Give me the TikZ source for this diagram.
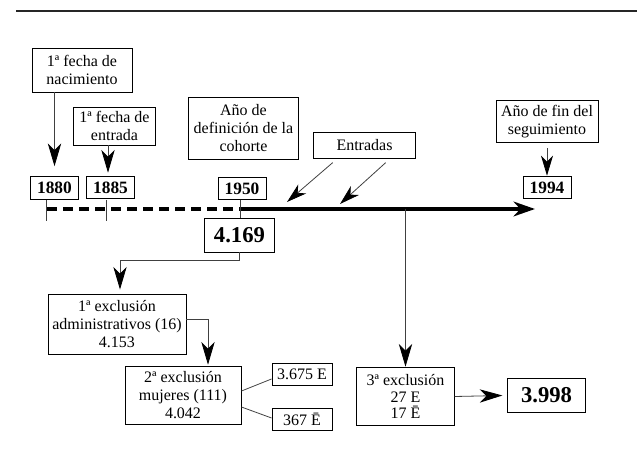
\documentclass[tikz,border=0pt]{standalone}
\usepackage{fontspec}
\setmainfont{Liberation Serif}
\usepackage{tikz}
\usetikzlibrary{arrows.meta,calc}

\tikzset{
  caja/.style={draw, line width=0.7pt, align=center, inner sep=1pt,
    font=\fontsize{12}{13.5}\selectfont},
  anio/.style={caja, font=\bfseries\fontsize{13}{14}\selectfont,
    minimum width=36pt, minimum height=17pt},
  cifra/.style={caja, font=\bfseries\fontsize{17}{18}\selectfont},
  fina/.style={line width=0.6pt, draw=black!75},
  flecha/.style={fina, -{Stealth[length=17pt,width=10pt,inset=5pt,color=black]}},
  flechita/.style={fina, -{Stealth[length=15pt,width=9pt,inset=4.5pt,color=black]}},
  linea/.style={line width=3pt}
}

\begin{document}
\begin{tikzpicture}[x=0.75pt, y=-0.75pt]
\useasboundingbox (0,0) rectangle (637,453);
% filete de arriba
\draw[line width=1.6pt, draw=black!85] (16,11) -- (637,11);

% cajas de fechas
\node[caja, minimum width=75pt, minimum height=33pt] (nac) at (82,70) {1ª fecha de\\nacimiento};
\node[caja, minimum width=62pt, minimum height=28.5pt] (ent) at (114.5,126) {1ª fecha de\\entrada};
\node[caja, minimum width=83pt, minimum height=46pt] (def) at (243.5,128.5) {Año de\\definición de la\\cohorte};
\node[caja, minimum width=77pt, minimum height=19pt] (entr) at (364.5,145.5) {Entradas};
\node[caja, minimum width=76.5pt, minimum height=32pt] (fin) at (547,121.5) {Año de fin del\\seguimiento};

\node[anio] (a1880) at (54.5,188) {1880};
\node[anio] (a1885) at (110.5,187.5) {1885};
\node[anio] (a1950) at (242,188.5) {1950};
\node[anio] (a1994) at (547,187.5) {1994};

% linea de tiempo
\coordinate (t0) at (47,209);
\coordinate (t1) at (240,209);
\coordinate (t2) at (535,209);
\draw[linea, dash pattern=on 7.5pt off 4.5pt] (t0) -- (t1);
\draw[linea, -{Stealth[length=16pt,width=11pt,inset=5pt]}] (t1) -- (t2);
\draw[fina] (46,200) -- (46,221);
\draw[fina] (106,200) -- (106,221);

\draw[flecha] (nac.south -| a1880) -- ($(a1880.north)+(0,-10)$);
\draw[flecha] ($(ent.south)+(-6.5,0)$) -- ($(a1885.north)+(-2.5,-3)$);
\draw[flechita] ($(fin.south)+(0,5)$) -- (a1994.north);
\coordinate (e1) at (287,202);
\coordinate (e2) at (340,204);
\draw[flechita] ($(entr.south west)+(20,4)$) -- (e1);
\draw[flechita] ($(entr.south west)+(73,4)$) -- (e2);

% cohorte y exclusiones
\node[cifra, minimum width=53pt, minimum height=25.5pt] (total) at (239.5,235) {4.169};
\draw[fina] (a1950.south -| t1) -- (total.north -| t1);

\node[caja, minimum width=103.5pt, minimum height=45pt] (exc1) at (117,324) {1ª exclusión\\administrativos (16)\\4.153};
\node[caja, minimum width=87pt, minimum height=44pt] (exc2) at (183,395.5) {2ª exclusión\\mujeres (111)\\4.042};
\node[caja, minimum width=45pt, minimum height=17pt] (e3675) at (302,374.5) {3.675 E};
\node[caja, minimum width=45pt, minimum height=17pt] (e367) at (302,419.5) {367 Ē};
\node[caja, minimum width=73pt, minimum height=44pt, font=\fontsize{12}{12.5}\selectfont] (exc3) at (405.5,396.5) {3ª exclusión\\27 E\\17 Ē};
\node[cifra, minimum width=58pt, minimum height=25pt] (final) at (546.5,395.5) {3.998};

\draw[flecha] (total.south) -- ++(0,8) -| ($(exc1.north)+(3,-4)$);
\draw[flecha] ($(exc1.east)+(0,-5)$) -| ($(exc2.north)+(25,-1)$);
\draw[fina] ($(exc2.east)+(0,-4.5)$) -- ($(e3675.west)+(0,4.5)$);
\draw[fina] ($(exc2.east)+(0,11.5)$) -- ($(e367.west)+(0,-1.5)$);
\draw[flecha] (exc3.north |- t2) -- (exc3.north);
\draw[flecha] (exc3.east) -- ($(final.west)+(-5,0)$);
\end{tikzpicture}
\end{document}
